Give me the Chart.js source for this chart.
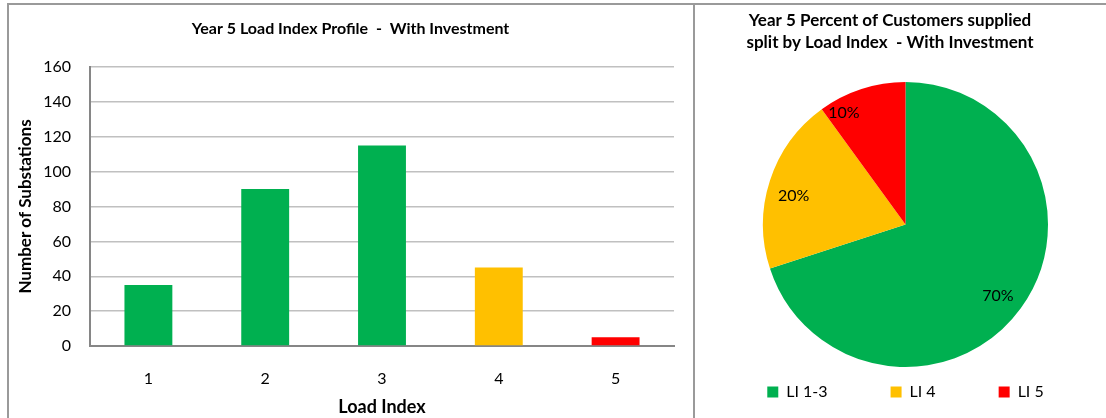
<!DOCTYPE html>
<html>
<head>
<meta charset="utf-8">
<title>Year 5 Load Index - With Investment</title>
<script src="https://cdn.jsdelivr.net/npm/chart.js@4/dist/chart.umd.min.js"></script>
<style>
    body { margin: 0; background: #fff; width: 1106px; height: 418px; overflow: hidden; position: relative; }
    .panel { position: absolute; top: 3px; height: 430px; border: 2px solid #9a9a9a; box-sizing: border-box; }
    #leftPanel { left: 7px; width: 688px; }
    #rightPanel { left: 693px; width: 430px; }
    canvas { position: absolute; }
    #barChart { left: 9px; top: 5px; }
    #pieChart { left: 695px; top: 5px; }
</style>
</head>
<body>
<div class="panel" id="leftPanel"></div>
<div class="panel" id="rightPanel"></div>
<canvas id="barChart" width="683" height="413"></canvas>
<canvas id="pieChart" width="450" height="413"></canvas>

<script>
// substations per load index band
const loadIndex = ['1', '2', '3', '4', '5'];
const substationCounts = [35, 90, 115, 45, 5];
const yTicks = [0, 20, 40, 60, 80, 100, 120, 140, 160];

// share of customers supplied, grouped by load index
const customerGroups = ['LI 1-3', 'LI 4', 'LI 5'];
const customerShare = [70, 20, 10];

const GREEN = '#00B050';
const AMBER = '#FFC000';
const RED = '#FF0000';

Chart.defaults.font.family = 'Lato, "Liberation Sans", sans-serif';
Chart.defaults.color = '#000';

// lets the title sit over its own span instead of the chart area
const titleSpan = {
    id: 'titleSpan',
    afterLayout(chart, args, opts) {
        const t = chart.titleBlock;
        if (t && opts.right) {
            t.left = opts.left;
            t.right = opts.right;
        }
    }
};

// percentage text inside each slice
const sliceLabels = {
    id: 'sliceLabels',
    afterDatasetsDraw(chart, args, opts) {
        const ctx = chart.ctx;
        const meta = chart.getDatasetMeta(0);
        const values = chart.data.datasets[0].data;
        ctx.save();
        ctx.font = opts.font;
        ctx.fillStyle = opts.color;
        ctx.textAlign = 'center';
        ctx.textBaseline = 'middle';
        meta.data.forEach((arc, i) => {
            const { x, y, startAngle, endAngle, outerRadius } =
                arc.getProps(['x', 'y', 'startAngle', 'endAngle', 'outerRadius'], true);
            const mid = (startAngle + endAngle) / 2;
            const r = outerRadius * opts.radius;
            const nudge = opts.nudge[i] || [0, 0];
            ctx.fillText(values[i] + '%', x + Math.cos(mid) * r + nudge[0], y + Math.sin(mid) * r + nudge[1]);
        });
        ctx.restore();
    }
};

const barColors = loadIndex.map((li, i) => i < 3 ? GREEN : (i === 3 ? AMBER : RED));

new Chart(document.getElementById('barChart'), {
    type: 'bar',
    data: {
        labels: loadIndex,
        datasets: [{
            data: substationCounts,
            backgroundColor: barColors,
            barPercentage: 0.41,
            categoryPercentage: 1
        }]
    },
    options: {
        responsive: false,
        animation: false,
        layout: { padding: { left: 0, right: 18, top: 0, bottom: 0 } },
        plugins: {
            legend: { display: false },
            tooltip: { enabled: false },
            title: {
                display: true,
                text: 'Year 5 Load Index Profile  -  With Investment',
                font: { size: 16, weight: 'bold' },
                padding: { top: 14.4, bottom: 28.4 }
            },
            titleSpan: { left: 0, right: 683 }
        },
        scales: {
            x: {
                grid: { display: false },
                border: { display: true, color: '#868686', width: 2 },
                ticks: { font: { size: 16 }, padding: 15 },
                title: {
                    display: true,
                    text: 'Load Index',
                    font: { size: 18, weight: 'bold' },
                    padding: { top: 0, bottom: 0 }
                },
                afterFit(scale) { scale.height = 72; }
            },
            y: {
                min: 0,
                max: 160,
                afterBuildTicks(scale) { scale.ticks = yTicks.map(v => ({ value: v })); },
                grid: { color: '#c0c0c0', lineWidth: 1.5, drawTicks: false },
                border: { display: true, color: '#868686', width: 2 },
                ticks: { font: { size: 16 }, padding: 19 },
                title: {
                    display: true,
                    text: 'Number of Substations',
                    font: { size: 17, weight: 'bold' },
                    padding: { top: 6, bottom: 0 }
                },
                afterFit(scale) { scale.width = 81; }
            }
        }
    },
    plugins: [titleSpan]
});

new Chart(document.getElementById('pieChart'), {
    type: 'pie',
    data: {
        labels: customerGroups,
        datasets: [{
            data: customerShare,
            backgroundColor: [GREEN, AMBER, RED],
            borderWidth: 0,
            radius: 142.5
        }]
    },
    options: {
        responsive: false,
        animation: false,
        layout: { padding: { left: 0, right: 29, top: 0, bottom: 8 } },
        plugins: {
            tooltip: { enabled: false },
            title: {
                display: true,
                text: ['Year 5 Percent of Customers supplied', 'split by Load Index  - With Investment'],
                font: { size: 17, weight: 'bold', lineHeight: 22 / 17 },
                padding: { top: 5, bottom: 74 }
            },
            titleSpan: { left: 0, right: 390 },
            legend: {
                position: 'bottom',
                labels: {
                    boxWidth: 11,
                    boxHeight: 11,
                    padding: 63,
                    font: { size: 16 },
                    color: '#000'
                }
            },
            sliceLabels: {
                font: '16px Lato, "Liberation Sans", sans-serif',
                color: '#000',
                radius: 0.81,
                nudge: [[-1, 3], [-2, 7], [-26, -2]]
            }
        }
    },
    plugins: [titleSpan, sliceLabels]
});
</script>
</body>
</html>
